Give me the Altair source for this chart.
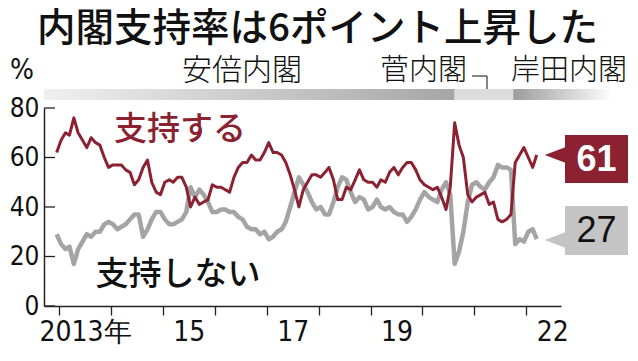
import altair as alt
import pandas as pd

# ---- data (monthly, Dec 2012 - Mar 2022) ----
support = [62, 67, 70, 69, 76, 70, 67, 64, 68, 66,
           65, 60, 56, 57, 57, 57, 55, 54, 49, 51,
           56, 59, 50, 46, 45, 50, 51, 50, 52, 52,
           48, 40, 44, 41, 42, 43, 49, 48, 48, 47,
           46, 52, 56, 58, 58, 61, 59, 59, 62, 66,
           62, 62, 61, 58, 53, 47, 40, 47, 50, 53,
           53, 52, 54, 56, 51, 43, 43, 48, 47, 51,
           55, 51, 50, 50, 48, 51, 50, 54, 56, 53,
           56, 58, 58, 55, 51, 49, 48, 47, 48, 44,
           39, 48, 74, 65, 60, 45, 42, 44, 45, 46,
           41, 42, 35, 34, 35, 37, 58, 61, 64, 60,
           56, 61]
oppose = [29, 25, 23, 24, 17, 23, 26, 29, 28, 30,
          30, 33, 34, 33, 31, 32, 33, 35, 37, 37,
          28, 31, 35, 38, 38, 35, 33, 33, 34, 35,
          38, 48, 44, 47, 45, 42, 38, 38, 39, 39,
          38, 38, 36, 35, 32, 31, 31, 29, 30, 27,
          28, 30, 31, 34, 40, 46, 52, 49, 46, 42,
          39, 40, 37, 37, 42, 48, 52, 51, 46, 42,
          44, 43, 39, 40, 43, 40, 39, 40, 38, 37,
          37, 34, 36, 39, 43, 46, 44, 43, 42, 47,
          50, 45, 17, 22, 30, 42, 49, 50, 48, 47,
          50, 52, 57, 56, 56, 55, 25, 27, 26, 30,
          31, 27]
first_month = "2012-12-01"

year_ticks = list(range(2013, 2023))
year_labels = {2013: "2013年", 2015: "15", 2017: "17", 2019: "19", 2022: "22"}
y_ticks = [0, 20, 40, 60, 80]

cabinet_names = ["安倍内閣", "菅内閣", "岸田内閣"]
cabinet_start = ["2012-09-17", "2020-08-15", "2021-10-01"]
cabinet_end = ["2020-08-15", "2021-10-01", "2023-09-01"]

title_text = "内閣支持率は6ポイント上昇した"
support_label = "支持する"
oppose_label = "支持しない"

RED = "#8c2231"
GRAY = "#a4a4a4"
NUM_FONT = "Liberation Sans Narrow, DejaVu Sans Condensed, Liberation Sans, sans-serif"
JP_FONT = "Noto Sans CJK JP"

dates = pd.date_range(first_month, periods=len(support), freq="MS") + pd.Timedelta(days=14)
df = pd.DataFrame({"date": dates, "support": support, "oppose": oppose})

x_scale = alt.Scale(domain=[alt.DateTime(year=2012, month=9, date=17),
                            alt.DateTime(year=2022, month=9, date=2)])
y_scale = alt.Scale(domain=[0, 80])

label_expr = " : ".join(
    f"year(datum.value)=={y} ? '{t}'" for y, t in year_labels.items()) + " : ''"

x_axis = alt.Axis(values=[alt.DateTime(year=y, month=1, date=1) for y in year_ticks],
                  labelExpr=label_expr, labelOffset=26, labelOverlap=False,
                  labelFlush=False, title=None, grid=False, tickSize=9,
                  tickColor="#222", tickWidth=1.3, domainColor="#222", domainWidth=1.5,
                  labelFont=NUM_FONT, labelFontSize=28, labelColor="#111",
                  labelPadding=3, labelAlign="center")
y_axis = alt.Axis(values=y_ticks, ticks=False, tickSize=0, labelPadding=5, title=None,
                  grid=False, domainColor="#222", domainWidth=1.5,
                  labelFont=NUM_FONT, labelFontSize=26, labelColor="#111")

base = alt.Chart(df)
gray_line = base.mark_line(color=GRAY, strokeWidth=4.5, strokeJoin="round").encode(
    x=alt.X("date:T", scale=x_scale, axis=x_axis),
    y=alt.Y("oppose:Q", scale=y_scale, axis=y_axis))
red_line = base.mark_line(color=RED, strokeWidth=3, strokeJoin="round").encode(
    x=alt.X("date:T", scale=x_scale),
    y=alt.Y("support:Q", scale=y_scale))

ticks_df = pd.DataFrame({"v": y_ticks})
y_inner_ticks = alt.Chart(ticks_df).mark_rule(color="#222", strokeWidth=1.3).encode(
    y=alt.Y("v:Q", scale=y_scale), x=alt.value(0), x2=alt.value(11))

cab_df = pd.DataFrame({"name": cabinet_names, "start": pd.to_datetime(cabinet_start),
                       "end": pd.to_datetime(cabinet_end)})


def grad(c0, c1):
    return alt.Gradient(gradient="linear", x1=0, x2=1, y1=0, y2=0,
                        stops=[alt.GradientStop(color=c0, offset=0),
                               alt.GradientStop(color=c1, offset=1)])


bar_fills = [grad("#f0f0f0", "#a6a6a6"), grad("#dcdcdc", "#dcdcdc"), grad("#9c9c9c", "#ffffff")]
bars = []
for i, fill in enumerate(bar_fills):
    bars.append(alt.Chart(cab_df.iloc[[i]]).mark_rect(color=fill).encode(
        x=alt.X("start:T", scale=x_scale), x2="end:T",
        y=alt.value(-19), y2=alt.value(-8)))


def label(text, x, y, size, color="#111", font=JP_FONT, align="left", weight="normal"):
    return alt.Chart(pd.DataFrame({"t": [text]})).mark_text(
        font=font, fontSize=size, color=color, align=align, baseline="middle",
        fontWeight=weight).encode(text="t:N", x=alt.value(x), y=alt.value(y))


texts = [
    label(title_text, -7, -79, 38.5, weight=500),
    label("%", -34, -37, 28, font=NUM_FONT),
    label(cabinet_names[0], 198, -37, 30, align="center", weight=300),
    label(cabinet_names[1], 336, -37, 29, weight=300),
    label(cabinet_names[2], 467, -37, 29, weight=300),
    label(support_label, 136, 22, 33, color=RED, align="center", weight=500),
    label(oppose_label, 134, 167, 33, align="center", weight=500),
]

bracket = [
    alt.Chart(pd.DataFrame({"a": [0]})).mark_rule(color="#333", strokeWidth=1.2).encode(
        x=alt.value(428), x2=alt.value(443), y=alt.value(-32)),
    alt.Chart(pd.DataFrame({"a": [0]})).mark_rule(color="#333", strokeWidth=1.2).encode(
        x=alt.value(443), y=alt.value(-32), y2=alt.value(-19)),
]

wedge = "M -1 0 L 1 -0.75 L 1 0.75 Z"
end_df = pd.DataFrame({"v": [support[-1]]})
end_df2 = pd.DataFrame({"v": [oppose[-1]]})
end_boxes = [
    alt.Chart(end_df).mark_rect(color=RED).encode(
        x=alt.value(521), x2=alt.value(584), y=alt.value(27), y2=alt.value(75)),
    alt.Chart(end_df).mark_point(shape=wedge, filled=True, color=RED, opacity=1, size=420).encode(
        x=alt.value(511), y=alt.value(47)),
    alt.Chart(end_df).mark_text(font="Liberation Sans, Arial, sans-serif", fontSize=36,
                                fontWeight="bold", color="white", align="center",
                                baseline="middle").encode(
        text="v:Q", x=alt.value(552.5), y=alt.value(52)),
    alt.Chart(end_df2).mark_rect(color="#c4c4c4").encode(
        x=alt.value(521), x2=alt.value(584), y=alt.value(98), y2=alt.value(147)),
    alt.Chart(end_df2).mark_point(shape=wedge, filled=True, color="#c4c4c4", opacity=1,
                                  size=420).encode(x=alt.value(511), y=alt.value(132)),
    alt.Chart(end_df2).mark_text(font="Liberation Sans, Arial, sans-serif", fontSize=36,
                                 color="#111", align="center", baseline="middle").encode(
        text="v:Q", x=alt.value(552.5), y=alt.value(123)),
]

chart = alt.layer(
    gray_line, red_line, y_inner_ticks, *bars, *bracket, *end_boxes, *texts
).properties(
    width=517, height=198,
    autosize=alt.AutoSizeParams(type="none"),
    padding={"left": 36, "top": 100, "right": 69, "bottom": 47},
    background="white",
).configure_view(stroke=None)

chart.save("out.html", embed_options={"renderer": "svg", "actions": False})
